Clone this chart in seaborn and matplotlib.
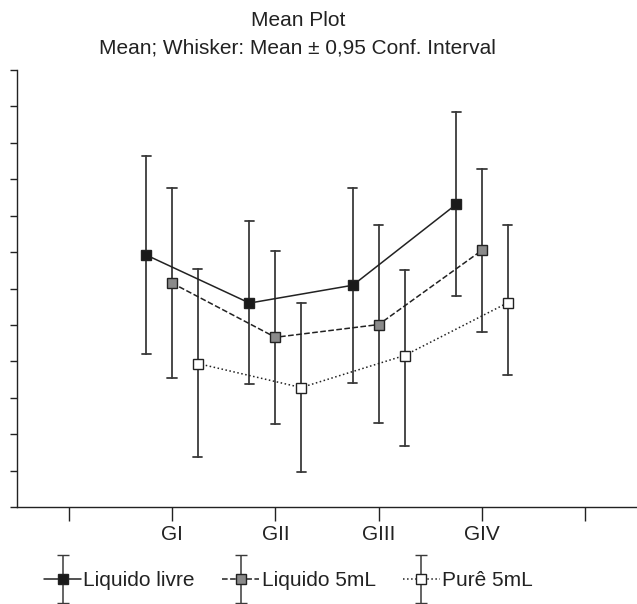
import numpy as np
import pandas as pd
import matplotlib
matplotlib.use("Agg")
import matplotlib.pyplot as plt
import seaborn as sns
from matplotlib.container import ErrorbarContainer
from matplotlib.legend_handler import HandlerErrorbar

# categories (blank slots at both ends, as in the original axis)
groups = ["GI", "GII", "GIII", "GIV"]
order = [""] + groups + [" "]
series = ["Liquido livre", "Liquido 5mL", "Purê 5mL"]

# means and 95% CI bounds (axis units 0..12)
livre_mean = [6.92, 5.60, 6.09, 8.31]
livre_low = [4.20, 3.38, 3.41, 5.79]
livre_high = [9.65, 7.84, 8.77, 10.85]

ml5_mean = [6.15, 4.66, 5.01, 7.05]
ml5_low = [3.53, 2.28, 2.30, 4.80]
ml5_high = [8.77, 7.02, 7.73, 9.29]

pure_mean = [3.94, 3.28, 4.16, 5.61]
pure_low = [1.38, 0.95, 1.67, 3.62]
pure_high = [6.53, 5.59, 6.52, 7.73]

marker_faces = ["#1a1a1a", "#8a8a8a", "white"]
line_styles = ["-", "--", ":"]

# long table: low / mean / high per point -> median gives mean, min-max gives whiskers
rows = []
for name, m, lo, hi in [(series[0], livre_mean, livre_low, livre_high),
                        (series[1], ml5_mean, ml5_low, ml5_high),
                        (series[2], pure_mean, pure_low, pure_high)]:
    for g, a, b, c in zip(groups, lo, m, hi):
        for v in (a, b, c):
            rows.append({"Group": g, "Series": name, "Value": v})
df = pd.DataFrame(rows)

sns.set_style("ticks")
plt.rcParams["font.family"] = ["Liberation Sans", "DejaVu Sans"]
plt.rcParams["text.color"] = "#222222"

fig = plt.figure(figsize=(6.37, 6.04), dpi=100)
ax = fig.add_axes([17 / 637, 1 - 507 / 604, 620 / 637, (507 - 70) / 604])

sns.pointplot(data=df, x="Group", y="Value", hue="Series", order=order,
              hue_order=series, estimator="median",
              errorbar=lambda v: (v.min(), v.max()),
              dodge=0.5, markers="s", linestyles=line_styles,
              palette=["#222222"] * 3, capsize=0.09,
              err_kws={"color": "#3a3a3a", "linewidth": 1.3},
              markersize=7, markeredgewidth=1.0, linewidth=1.1,
              legend=False, ax=ax)

# marker fills per series
mk_lines = [l for l in ax.lines if l.get_marker() == "s"]
for l, fc in zip(mk_lines, marker_faces):
    l.set_markerfacecolor(fc)
    l.set_markeredgecolor("#222222")
    l.set_zorder(5)

ax.set_xlim(-0.5, 5.5)
ax.set_ylim(0, 12)
ax.set_yticks(np.arange(0, 13))
ax.set_yticklabels([])
ax.set_xlabel("")
ax.set_ylabel("")
ax.tick_params(axis="y", length=5, width=1, color="#222222")
ax.tick_params(axis="x", length=10, width=1, pad=3, labelsize=15,
               color="#222222", labelcolor="#222222")
sns.despine(ax=ax, top=True, right=True)
for s in ["left", "bottom"]:
    ax.spines[s].set_color("#222222")
    ax.spines[s].set_linewidth(1.0)

fig.text(298 / 637, 1 - 20 / 604, "Mean Plot", ha="center", va="center", fontsize=15)
fig.text(297 / 637, 1 - 48 / 604, "Mean; Whisker: Mean ± 0,95 Conf. Interval",
         ha="center", va="center", fontsize=15)

# legend with errorbar glyphs
handles = []
for fc, ls in zip(marker_faces, line_styles):
    h = ax.errorbar([np.nan], [np.nan], yerr=[1], fmt="s", linestyle=ls,
                    color="#222222", mfc=fc, mec="#222222", ms=7, lw=1.1,
                    ecolor="#3a3a3a", elinewidth=1.1, capsize=4)
    handles.append(h)
fig.legend(handles, series, loc="center left",
           bbox_to_anchor=(25 / 637, 1 - 581 / 604), ncol=3, frameon=False,
           fontsize=15, handlelength=1.8, handletextpad=0.1,
           columnspacing=1.3,
           handler_map={ErrorbarContainer: HandlerErrorbar(yerr_size=1.15)})

fig.savefig("out.png", dpi=100, facecolor="white")
